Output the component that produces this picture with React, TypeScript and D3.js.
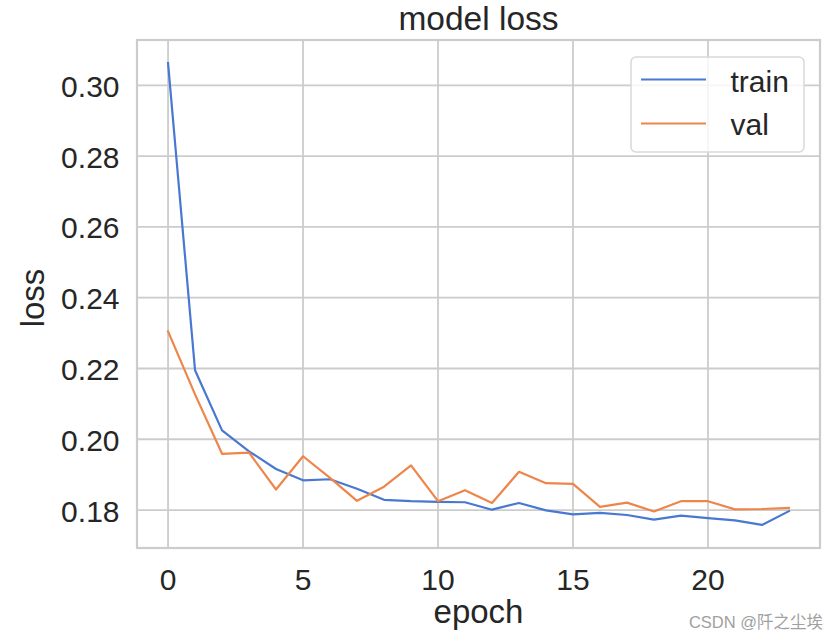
import React from "react";
import * as d3 from "d3";

const epochs = d3.range(0, 24);
const trainLoss = [
  0.3063, 0.2195, 0.2025, 0.1966, 0.1916, 0.1884, 0.1887, 0.186, 0.1829, 0.1825,
  0.1823, 0.1822, 0.1801, 0.182, 0.1799, 0.1788, 0.1792, 0.1786, 0.1773, 0.1784,
  0.1777, 0.1771, 0.1758, 0.1797,
];
const valLoss = [
  0.2305, 0.2127, 0.1959, 0.1962, 0.1858, 0.1952, 0.1891, 0.1826, 0.1866, 0.1926,
  0.1825, 0.1856, 0.182, 0.1908, 0.1876, 0.1874, 0.1809, 0.1821, 0.1796, 0.1825,
  0.1825, 0.1802, 0.1803, 0.1806,
];
const xTicks = [0, 5, 10, 15, 20];
const yTicks = [0.18, 0.2, 0.22, 0.24, 0.26, 0.28, 0.3];
const seriesNames = ["train", "val"];
const seriesColors = ["#4878d0", "#ee854a"];

const W = 839;
const H = 642;
const M = { left: 137, right: 820, top: 40, bottom: 548 };
const FONT = "'Liberation Sans', Arial, Helvetica, sans-serif";
const TXT = "#262626";
const GRID = "#cccccc";

export default function App() {
  const allVals = [...trainLoss, ...valLoss];
  const [ymin, ymax] = d3.extent(allVals) as [number, number];
  const ypad = (ymax - ymin) * 0.05;
  const xpad = (epochs.length - 1) * 0.05;
  const x = d3
    .scaleLinear()
    .domain([0 - xpad, epochs.length - 1 + xpad])
    .range([M.left, M.right]);
  const y = d3
    .scaleLinear()
    .domain([ymin - ypad, ymax + ypad])
    .range([M.bottom, M.top]);

  const line = d3
    .line<number>()
    .x((_, i) => x(epochs[i]))
    .y((d) => y(d));

  const series = [trainLoss, valLoss];
  const cx = (M.left + M.right) / 2;
  const cy = (M.top + M.bottom) / 2;

  const lg = { x: 631, y: 57, w: 173, h: 95 };

  return (
    <div style={{ position: "absolute", left: 0, top: 0 }}>
      <svg width={W} height={H} style={{ display: "block", background: "#fff" }} fontFamily={FONT}>
        <rect x={0} y={0} width={W} height={H} fill="#fff" />
        {/* grid */}
        {xTicks.map((t) => (
          <line key={"gx" + t} x1={x(t)} x2={x(t)} y1={M.top} y2={M.bottom} stroke={GRID} strokeWidth={1.8} />
        ))}
        {yTicks.map((t) => (
          <line key={"gy" + t} x1={M.left} x2={M.right} y1={y(t)} y2={y(t)} stroke={GRID} strokeWidth={1.8} />
        ))}
        {/* spines */}
        <rect
          x={M.left}
          y={M.top}
          width={M.right - M.left}
          height={M.bottom - M.top}
          fill="none"
          stroke={GRID}
          strokeWidth={2.2}
        />
        {/* lines */}
        {series.map((s, i) => (
          <path
            key={"s" + i}
            d={line(s) || ""}
            fill="none"
            stroke={seriesColors[i]}
            strokeWidth={2.2}
            strokeLinejoin="round"
            strokeLinecap="square"
          />
        ))}
        {/* tick labels */}
        {xTicks.map((t) => (
          <text key={"tx" + t} x={x(t)} y={M.bottom + 42} textAnchor="middle" fontSize={30} fill={TXT}>
            {t}
          </text>
        ))}
        {yTicks.map((t) => (
          <text key={"ty" + t} x={119.5} y={y(t) + 11.5} textAnchor="end" fontSize={30} fill={TXT}>
            {d3.format(".2f")(t)}
          </text>
        ))}
        {/* axis labels */}
        <text x={cx} y={623} textAnchor="middle" fontSize={33} fill={TXT}>
          epoch
        </text>
        <text
          transform={`translate(43.5,${cy + 4}) rotate(-90)`}
          textAnchor="middle"
          fontSize={33}
          fill={TXT}
        >
          loss
        </text>
        <text x={cx} y={30} textAnchor="middle" fontSize={33.5} fill={TXT}>
          model loss
        </text>
        {/* legend */}
        <rect
          x={lg.x}
          y={lg.y}
          width={lg.w}
          height={lg.h}
          rx={5}
          fill="#ffffff"
          fillOpacity={0.8}
          stroke="#d9d9d9"
          strokeWidth={1.5}
        />
        {seriesNames.map((n, i) => (
          <g key={"lg" + n}>
            <line
              x1={641}
              x2={706}
              y1={79.5 + i * 44}
              y2={79.5 + i * 44}
              stroke={seriesColors[i]}
              strokeWidth={2.2}
            />
            <text x={730.5} y={92 + i * 43} fontSize={30} fill={TXT}>
              {n}
            </text>
          </g>
        ))}
        {/* watermark */}
        <text
          x={823}
          y={628}
          textAnchor="end"
          fontSize={16.5}
          fill="#a0a0a0"
          fontFamily="'Liberation Sans', 'Noto Sans CJK SC', sans-serif"
        >
          CSDN @阡之尘埃
        </text>
      </svg>
    </div>
  );
}
